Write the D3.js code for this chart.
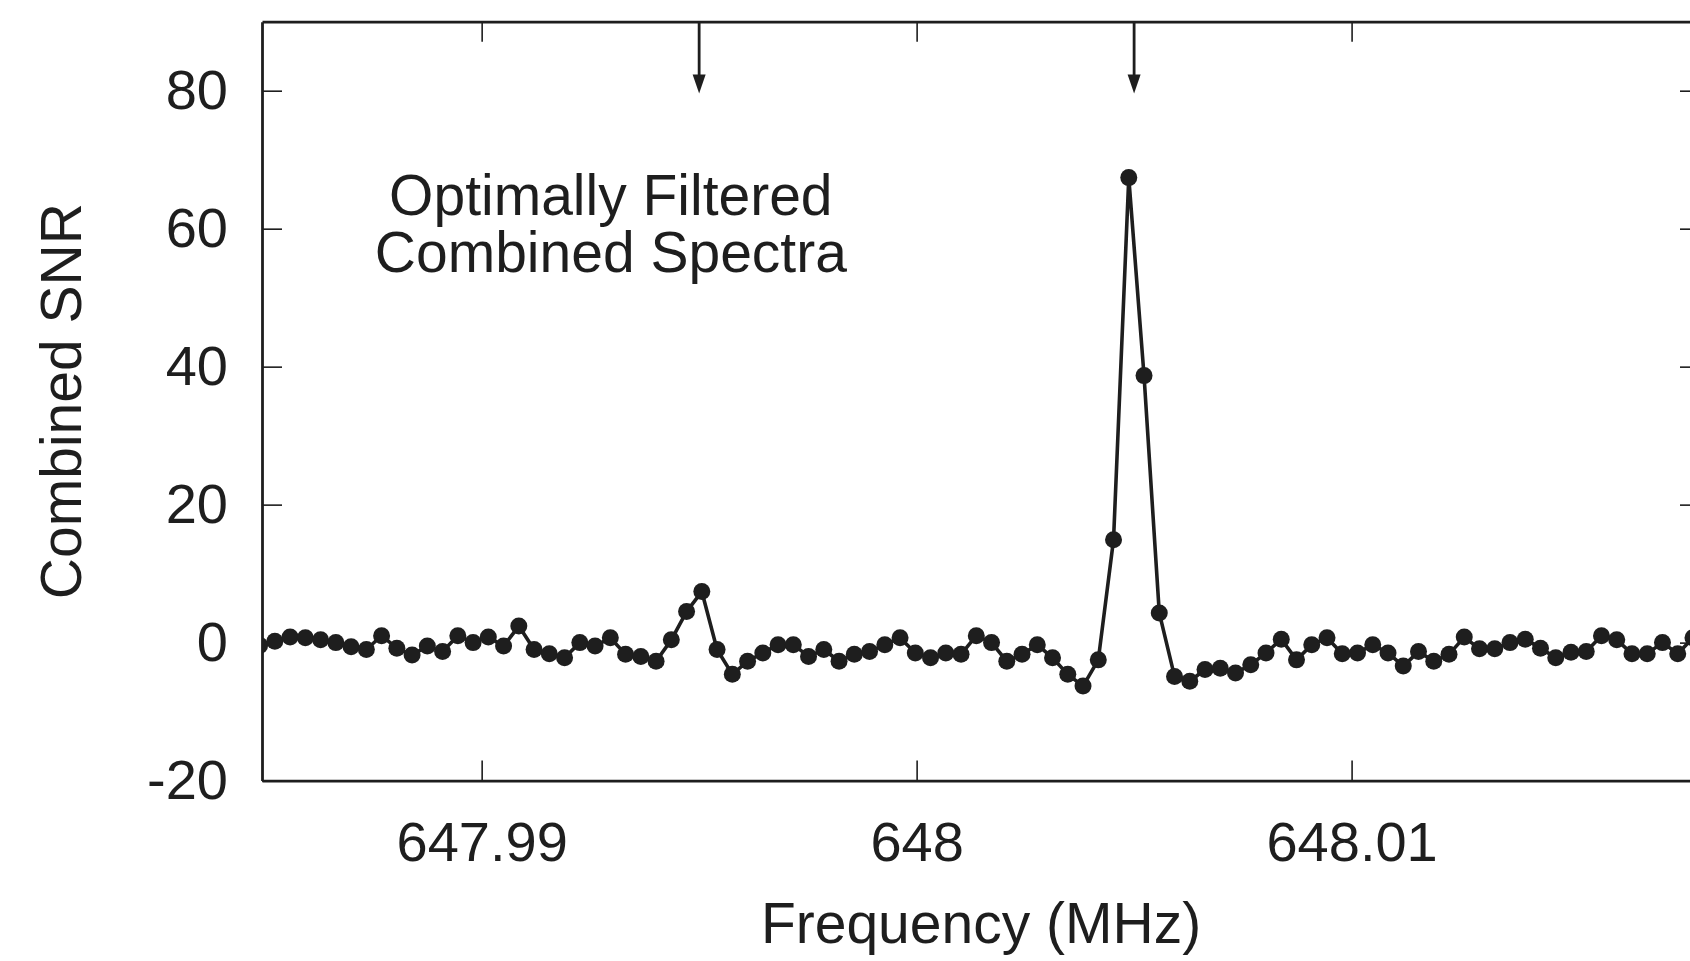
<!DOCTYPE html>
<html>
<head>
<meta charset="utf-8">
<script src="https://cdn.jsdelivr.net/npm/d3@7"></script>
<style>
  html, body { margin: 0; padding: 0; background: #fff; }
  svg { display: block; font-family: "Liberation Sans", Arial, Helvetica, sans-serif; }
</style>
</head>
<body>
<svg width="1690" height="961"></svg>
<script>
// spectrum bins: first bin frequency and bin width (MHz)
const binStart = 647.984895;
const binWidth = 0.00035057;

// combined SNR per bin
const snr = [
  -0.4, 0.2, 0.8, 0.7, 0.4, 0.0, -0.6, -1.0, 1.0, -0.8,
  -1.8, -0.5, -1.3, 1.0, 0.0, 0.8, -0.5, 2.4, -1.0, -1.6,
  -2.2, 0.0, -0.5, 0.7, -1.7, -2.0, -2.7, 0.4, 4.5, 7.4,
  -1.0, -4.6, -2.7, -1.5, -0.3, -0.3, -2.0, -1.0, -2.7, -1.7,
  -1.3, -0.3, 0.7, -1.5, -2.2, -1.5, -1.7, 1.0, 0.0, -2.7,
  -1.7, -0.3, -2.2, -4.6, -6.3, -2.5, 14.9, 67.4, 38.7, 4.3,
  -4.9, -5.6, -3.9, -3.7, -4.4, -3.2, -1.5, 0.5, -2.5, -0.3,
  0.7, -1.6, -1.5, -0.3, -1.5, -3.4, -1.3, -2.7, -1.7, 0.8,
  -0.9, -0.9, 0.0, 0.5, -0.8, -2.2, -1.4, -1.3, 1.0, 0.4,
  -1.6, -1.6, 0.0, -1.6, 0.7
];

// marked frequencies (arrows from the top)
const arrowFreqs = [647.995, 648.005];

const xTicks = [647.99, 648, 648.01];
const yTicks = [-20, 0, 20, 40, 60, 80];
const xDomain = [647.98495, 648.01801];
const yDomain = [-20, 90];

const annotation = ["Optimally Filtered", "Combined Spectra"];

let svg = d3.select("svg");
let margin = {top: 21.7, left: 262, right: 1700, bottom: 780.6};
let ink = "#1e1e1e";
let tickFont = 56, titleFont = 57;

let x = d3.scaleLinear().domain(xDomain).range([margin.left, margin.right]);
let y = d3.scaleLinear().domain(yDomain).range([margin.bottom, margin.top]);

let data = snr.map((v, i) => ({f: binStart + i * binWidth, v: v}));

svg.append("defs").append("clipPath").attr("id", "plot-clip")
  .append("rect")
  .attr("x", margin.left).attr("y", margin.top)
  .attr("width", margin.right - margin.left).attr("height", margin.bottom - margin.top);

// axes, ticks pointing inwards on all four sides
let fmtX = d => String(+d.toFixed(2));
let fmtY = d => String(d);

let gx = svg.append("g")
  .attr("transform", "translate(0," + margin.bottom + ")")
  .call(d3.axisBottom(x).tickValues(xTicks).tickFormat(fmtX).tickSizeInner(-20).tickSizeOuter(0).tickPadding(41));

let gxTop = svg.append("g")
  .attr("transform", "translate(0," + margin.top + ")")
  .call(d3.axisTop(x).tickValues(xTicks).tickFormat("").tickSizeInner(-20).tickSizeOuter(0));

let gy = svg.append("g")
  .attr("transform", "translate(" + margin.left + ",0)")
  .call(d3.axisLeft(y).tickValues(yTicks).tickFormat(fmtY).tickSizeInner(-20).tickSizeOuter(0).tickPadding(34));

let gyRight = svg.append("g")
  .attr("transform", "translate(" + margin.right + ",0)")
  .call(d3.axisRight(y).tickValues(yTicks).tickFormat("").tickSizeInner(-20).tickSizeOuter(0));

[gx, gxTop, gy, gyRight].forEach(g => {
  g.select(".domain").attr("stroke", ink).attr("stroke-width", 2.8);
  g.selectAll(".tick line").attr("stroke", ink).attr("stroke-width", 1.6);
  g.selectAll(".tick text")
    .attr("fill", ink)
    .style("font-size", tickFont + "px")
    .style("font-family", "'Liberation Sans', Arial, Helvetica, sans-serif");
});

// axis titles
svg.append("text")
  .attr("x", (margin.left + margin.right) / 2)
  .attr("y", 943)
  .attr("text-anchor", "middle")
  .attr("fill", ink)
  .style("font-size", titleFont + "px")
  .text("Frequency (MHz)");

svg.append("text")
  .attr("transform", "translate(81," + ((margin.top + margin.bottom) / 2) + ") rotate(-90)")
  .attr("text-anchor", "middle")
  .attr("fill", ink)
  .style("font-size", titleFont + "px")
  .text("Combined SNR");

// annotation
svg.append("text")
  .attr("x", x(647.99297))
  .attr("text-anchor", "middle")
  .attr("fill", ink)
  .style("font-size", titleFont + "px")
  .selectAll("tspan")
  .data(annotation)
  .enter().append("tspan")
  .attr("x", x(647.99297))
  .attr("y", (d, i) => y(62) + i * 57)
  .text(d => d);

// arrows
let arrows = svg.append("g");
arrowFreqs.forEach(f => {
  let ax = x(f), tip = y(79.6);
  arrows.append("line")
    .attr("x1", ax).attr("x2", ax)
    .attr("y1", margin.top).attr("y2", tip - 12)
    .attr("stroke", ink).attr("stroke-width", 2.8);
  arrows.append("path")
    .attr("d", "M" + (ax - 6.5) + "," + (tip - 19) + "L" + (ax + 6.5) + "," + (tip - 19) + "L" + ax + "," + tip + "Z")
    .attr("fill", ink);
});

// spectrum line and dots
let plot = svg.append("g").attr("clip-path", "url(#plot-clip)");

plot.append("path")
  .datum(data)
  .attr("fill", "none")
  .attr("stroke", ink)
  .attr("stroke-width", 3.6)
  .attr("stroke-linejoin", "round")
  .attr("d", d3.line().x(d => x(d.f)).y(d => y(d.v)));

plot.selectAll(".dot")
  .data(data)
  .enter().append("circle")
  .attr("class", "dot")
  .attr("cx", d => x(d.f))
  .attr("cy", d => y(d.v))
  .attr("r", 8.5)
  .attr("fill", ink);
</script>
</body>
</html>
